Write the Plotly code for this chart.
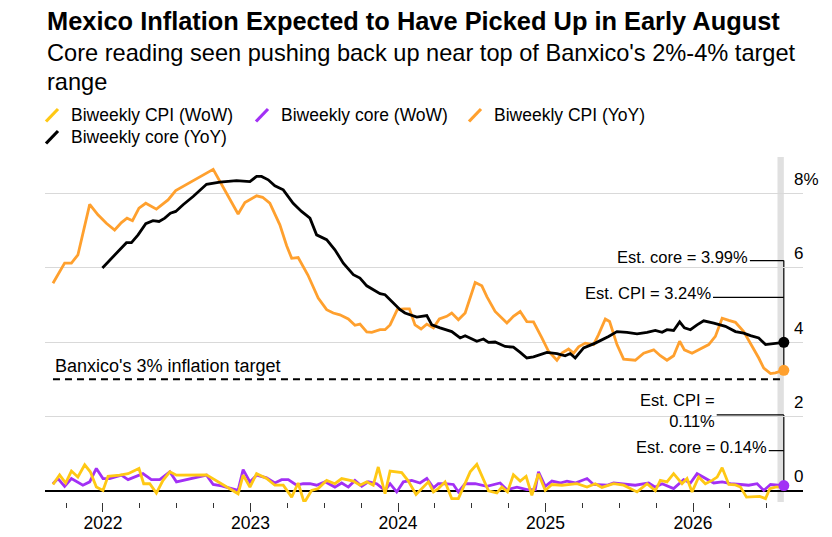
import plotly.graph_objects as go

# biweekly readings, x as decimal year
cpi_yoy_t = [2021.661, 2021.740, 2021.786, 2021.830, 2021.910, 2021.966, 2022.023, 2022.079, 2022.125, 2022.163,
             2022.200, 2022.244, 2022.290, 2022.362, 2022.441, 2022.493, 2022.747, 2022.916, 2022.962, 2023.041,
             2023.082, 2023.131, 2023.199, 2023.245, 2023.279, 2023.323, 2023.389, 2023.459, 2023.516, 2023.561,
             2023.606, 2023.663, 2023.708, 2023.742, 2023.788, 2023.822, 2023.878, 2023.912, 2023.946, 2023.995,
             2024.041, 2024.077, 2024.115, 2024.156, 2024.195, 2024.240, 2024.280, 2024.330, 2024.364, 2024.409,
             2024.455, 2024.523, 2024.568, 2024.602, 2024.658, 2024.738, 2024.782, 2024.828, 2024.873, 2024.918,
             2024.975, 2025.020, 2025.077, 2025.111, 2025.156, 2025.190, 2025.224, 2025.269, 2025.325, 2025.359,
             2025.405, 2025.434, 2025.484, 2025.529, 2025.608, 2025.665, 2025.733, 2025.778, 2025.823, 2025.868,
             2025.909, 2025.941, 2025.993, 2026.050, 2026.106, 2026.151, 2026.197, 2026.242, 2026.287, 2026.343,
             2026.389, 2026.445, 2026.479, 2026.525, 2026.558, 2026.615]
cpi_yoy = [5.58, 6.12, 6.12, 6.34, 7.70, 7.42, 7.19, 7.01, 7.21, 7.33,
           7.26, 7.60, 7.73, 7.57, 7.82, 8.07, 8.64, 7.44, 7.75, 7.93,
           7.89, 7.73, 7.15, 6.59, 6.25, 6.27, 5.80, 5.18, 4.87, 4.78,
           4.73, 4.62, 4.45, 4.48, 4.27, 4.26, 4.33, 4.33, 4.46, 4.87,
           4.89, 4.89, 4.46, 4.35, 4.48, 4.38, 4.62, 4.69, 4.78, 4.60,
           4.78, 5.60, 5.51, 5.22, 4.82, 4.51, 4.69, 4.82, 4.55, 4.54,
           4.11, 3.75, 3.51, 3.70, 3.81, 3.70, 3.87, 3.97, 3.93, 4.20,
           4.62, 4.55, 3.93, 3.54, 3.51, 3.70, 3.79, 3.63, 3.51, 3.63,
           4.02, 3.79, 3.70, 3.81, 3.93, 4.15, 4.64, 4.58, 4.53, 4.28,
           3.97, 3.57, 3.30, 3.15, 3.17, 3.24]

core_yoy_t = [2021.996, 2022.159, 2022.193, 2022.238, 2022.290, 2022.339, 2022.380, 2022.419, 2022.457, 2022.493,
              2022.543, 2022.611, 2022.702, 2022.792, 2022.905, 2022.996, 2023.041, 2023.075, 2023.120, 2023.165,
              2023.222, 2023.289, 2023.346, 2023.403, 2023.448, 2023.516, 2023.572, 2023.629, 2023.697, 2023.742,
              2023.788, 2023.832, 2023.878, 2023.912, 2023.957, 2024.014, 2024.047, 2024.127, 2024.195, 2024.229,
              2024.285, 2024.364, 2024.421, 2024.455, 2024.534, 2024.579, 2024.613, 2024.658, 2024.726, 2024.782,
              2024.828, 2024.873, 2024.918, 2025.009, 2025.077, 2025.133, 2025.167, 2025.201, 2025.258, 2025.337,
              2025.427, 2025.484, 2025.552, 2025.620, 2025.688, 2025.744, 2025.790, 2025.823, 2025.868, 2025.909,
              2025.941, 2025.982, 2026.027, 2026.072, 2026.140, 2026.219, 2026.287, 2026.343, 2026.389, 2026.445,
              2026.491, 2026.547, 2026.615]
core_yoy = [5.99, 6.67, 6.67, 6.88, 7.18, 7.26, 7.24, 7.33, 7.46, 7.51,
            7.69, 7.91, 8.24, 8.30, 8.34, 8.31, 8.45, 8.45, 8.36, 8.20,
            8.09, 7.73, 7.51, 7.33, 6.88, 6.75, 6.48, 6.12, 5.81, 5.72,
            5.51, 5.40, 5.30, 5.27, 5.09, 4.87, 4.78, 4.67, 4.71, 4.46,
            4.38, 4.28, 4.11, 4.17, 4.02, 4.08, 3.99, 4.00, 3.88, 3.86,
            3.72, 3.57, 3.60, 3.72, 3.69, 3.63, 3.69, 3.57, 3.84, 3.97,
            4.15, 4.28, 4.26, 4.22, 4.26, 4.31, 4.26, 4.33, 4.31, 4.54,
            4.38, 4.33, 4.46, 4.57, 4.51, 4.42, 4.28, 4.24, 4.17, 4.11,
            3.93, 3.95, 3.99]

cpi_wow_t = [2021.661, 2021.706, 2021.747, 2021.786, 2021.830, 2021.876, 2021.914, 2021.955, 2022.000, 2022.034,
             2022.113, 2022.170, 2022.244, 2022.276, 2022.317, 2022.362, 2022.407, 2022.453, 2022.498, 2022.702,
             2022.916, 2022.950, 2022.996, 2023.041, 2023.109, 2023.165, 2023.222, 2023.279, 2023.323, 2023.364,
             2023.414, 2023.459, 2023.516, 2023.572, 2023.618, 2023.697, 2023.742, 2023.788, 2023.832, 2023.866,
             2023.912, 2023.946, 2024.025, 2024.070, 2024.122, 2024.172, 2024.206, 2024.240, 2024.273, 2024.319,
             2024.364, 2024.409, 2024.489, 2024.534, 2024.613, 2024.670, 2024.704, 2024.742, 2024.782, 2024.828,
             2024.868, 2024.907, 2024.952, 2024.998, 2025.043, 2025.111, 2025.213, 2025.281, 2025.337, 2025.382,
             2025.461, 2025.529, 2025.620, 2025.688, 2025.744, 2025.778, 2025.823, 2025.868, 2025.925, 2025.959,
             2025.993, 2026.038, 2026.083, 2026.129, 2026.163, 2026.197, 2026.242, 2026.287, 2026.321, 2026.362,
             2026.411, 2026.452, 2026.491, 2026.520, 2026.558, 2026.615]
cpi_wow = [0.17, 0.43, 0.21, 0.53, 0.37, 0.70, 0.51, 0.10, 0.01, 0.39,
           0.42, 0.46, 0.60, 0.19, 0.19, -0.06, 0.28, 0.51, 0.42, 0.43,
           -0.08, 0.42, 0.10, 0.46, 0.33, 0.15, 0.15, -0.17, 0.21, -0.32,
           0.01, 0.06, 0.28, 0.19, 0.33, 0.26, 0.15, 0.24, 0.15, 0.64,
           -0.08, 0.53, 0.49, 0.26, -0.10, 0.10, 0.24, -0.03, 0.06, 0.24,
           -0.21, -0.21, 0.51, 0.71, 0.00, -0.06, 0.10, -0.03, 0.43, 0.26,
           0.39, -0.12, 0.46, 0.01, 0.17, 0.15, 0.19, 0.10, 0.19, 0.09,
           0.19, 0.15, -0.03, 0.19, 0.00, 0.28, 0.24, 0.46, 0.19, 0.33,
           -0.03, 0.37, 0.19, 0.28, 0.37, 0.62, 0.17, 0.16, 0.10, -0.17,
           -0.15, -0.15, -0.21, 0.06, 0.10, 0.11]

core_wow_t = [2021.661, 2021.695, 2021.740, 2021.786, 2021.864, 2021.910, 2021.955, 2022.000, 2022.045, 2022.125,
              2022.170, 2022.271, 2022.328, 2022.385, 2022.453, 2022.498, 2022.702, 2022.747, 2022.804, 2022.860,
              2022.916, 2022.950, 2022.996, 2023.041, 2023.109, 2023.165, 2023.211, 2023.256, 2023.313, 2023.357,
              2023.403, 2023.448, 2023.505, 2023.572, 2023.618, 2023.663, 2023.708, 2023.754, 2023.798, 2023.855,
              2023.912, 2023.946, 2023.991, 2024.036, 2024.093, 2024.149, 2024.195, 2024.240, 2024.273, 2024.319,
              2024.375, 2024.409, 2024.455, 2024.523, 2024.602, 2024.692, 2024.738, 2024.806, 2024.873, 2024.930,
              2024.952, 2024.998, 2025.043, 2025.099, 2025.145, 2025.201, 2025.281, 2025.325, 2025.416, 2025.461,
              2025.529, 2025.608, 2025.699, 2025.744, 2025.790, 2025.868, 2025.936, 2025.982, 2026.027, 2026.083,
              2026.140, 2026.197, 2026.253, 2026.321, 2026.377, 2026.434, 2026.479, 2026.525, 2026.615]
core_wow = [0.19, 0.33, 0.12, 0.33, 0.15, 0.24, 0.60, 0.33, 0.33, 0.42,
            0.30, 0.46, 0.30, 0.30, 0.51, 0.24, 0.42, 0.17, 0.13, 0.06,
            0.01, 0.57, 0.24, 0.42, 0.35, 0.21, 0.30, 0.30, 0.15, 0.19,
            0.19, 0.15, 0.24, 0.10, 0.21, 0.10, 0.28, 0.12, 0.24, 0.19,
            0.01, 0.19, -0.03, 0.24, 0.28, 0.21, 0.33, 0.08, 0.19, 0.19,
            0.17, -0.03, 0.19, 0.19, 0.12, 0.21, 0.03, 0.10, 0.03, 0.03,
            0.51, 0.12, 0.26, 0.21, 0.26, 0.21, 0.33, 0.17, 0.15, 0.21,
            0.19, 0.15, 0.21, 0.10, 0.19, 0.06, 0.30, 0.21, 0.46, 0.33,
            0.21, 0.24, 0.19, 0.17, 0.15, 0.19, 0.01, 0.17, 0.14]

target = 3
year_ticks = [2022, 2023, 2024, 2025, 2026]
year_labels = ["2022", "2023", "2024", "2025", "2026"]
y_ticks = [0, 2, 4, 6, 8]
y_labels = ["0", "2", "4", "6", "8%"]

YELLOW = "#ffc814"
PURPLE = "#a230f5"
ORANGE = "#ffa02e"
BLACK = "#000000"
FONT = "Liberation Sans, Arial, sans-serif"

# the page body adds an 8px margin, so the figure is a bit smaller than the window
OFF = 8
W, H = 832 - OFF, 537 - OFF
PLOT_L, PLOT_R, PLOT_T, PLOT_B = 45, 803, 157, 502  # page pixels
ML, MR, MT, MB = PLOT_L - OFF, 832 - PLOT_R, PLOT_T - OFF, 537 - PLOT_B


def px(x):
    return (x - PLOT_L) / (PLOT_R - PLOT_L)


def py(y):
    return (PLOT_B - y) / (PLOT_B - PLOT_T)


fig = go.Figure()

series = [
    (core_wow_t, core_wow, PURPLE, "Biweekly core (WoW)"),
    (cpi_wow_t, cpi_wow, YELLOW, "Biweekly CPI (WoW)"),
    (cpi_yoy_t, cpi_yoy, ORANGE, "Biweekly CPI (YoY)"),
    (core_yoy_t, core_yoy, BLACK, "Biweekly core (YoY)"),
]
for t, v, c, name in series:
    fig.add_trace(go.Scatter(x=t, y=v, mode="lines", name=name,
                             line=dict(color=c, width=2.8), showlegend=False))

# end-point dots
for t, v, c in [(core_wow_t, core_wow, PURPLE), (core_yoy_t, core_yoy, BLACK), (cpi_yoy_t, cpi_yoy, ORANGE)]:
    fig.add_trace(go.Scatter(x=[t[-1]], y=[v[-1]], mode="markers", showlegend=False,
                             marker=dict(color=c, size=11)))

last = cpi_yoy_t[-1]

shapes = []
# highlight band for latest period
shapes.append(dict(type="rect", xref="x", yref="paper", x0=2026.572, x1=last, y0=0, y1=1,
                   fillcolor="#e0e0e0", line=dict(width=0), layer="below"))
# target line
shapes.append(dict(type="line", xref="x", yref="y", x0=cpi_yoy_t[0], x1=last, y0=target, y1=target,
                   line=dict(color=BLACK, width=2, dash="7px,5px")))

# callout connectors
callouts = [
    ("Est. core = 3.99%", 6.19, 2026.385, core_yoy[-1]),
    ("Est. CPI = 3.24%", 5.20, 2026.135, cpi_yoy[-1]),
    ("Est. CPI =<br>0.11%", 2.04, 2026.160, cpi_wow[-1]),
    ("Est. core = 0.14%", 1.08, 2026.513, core_wow[-1]),
]
annotations = []
for text, ly, lx, val in callouts:
    shapes.append(dict(type="line", xref="x", yref="y", x0=lx, x1=last, y0=ly, y1=ly,
                       line=dict(color=BLACK, width=1.2)))
    annotations.append(dict(x=lx, y=ly, xref="x", yref="y", text=text, showarrow=False,
                            xanchor="right", yanchor="middle", align="right", yshift=4,
                            font=dict(size=16.5, color=BLACK, family=FONT)))
shapes.append(dict(type="line", xref="x", yref="y", x0=last, x1=last, y0=6.19, y1=cpi_yoy[-1],
                   line=dict(color=BLACK, width=1.2), layer="below"))
shapes.append(dict(type="line", xref="x", yref="y", x0=last, x1=last, y0=2.04, y1=core_wow[-1],
                   line=dict(color=BLACK, width=1.2), layer="below"))

annotations.append(dict(x=cpi_yoy_t[0], y=target, xref="x", yref="y", text="Banxico's 3% inflation target",
                        showarrow=False, xanchor="left", yanchor="bottom", yshift=1,
                        font=dict(size=18, color=BLACK, family=FONT)))

# right-hand axis labels sitting above gridlines
for v, lab in zip(y_ticks, y_labels):
    annotations.append(dict(x=px(792), y=v, xref="paper", yref="y", text=lab, showarrow=False,
                            xanchor="left", yanchor="middle", yshift=14,
                            font=dict(size=17, color=BLACK, family=FONT)))

# titles
annotations.append(dict(x=px(45), y=py(21), xref="paper", yref="paper", xanchor="left", yanchor="middle",
                        text="<b>Mexico Inflation Expected to Have Picked Up in Early August</b>", showarrow=False,
                        font=dict(size=25.4, color=BLACK, family=FONT)))
annotations.append(dict(x=px(45), y=py(53.5), xref="paper", yref="paper", xanchor="left", yanchor="middle",
                        text="Core reading seen pushing back up near top of Banxico's 2%-4% target",
                        showarrow=False, font=dict(size=23.6, color=BLACK, family=FONT)))
annotations.append(dict(x=px(45), y=py(82), xref="paper", yref="paper", xanchor="left", yanchor="middle",
                        text="range", showarrow=False, font=dict(size=23.6, color=BLACK, family=FONT)))

# legend built by hand: slanted strokes + labels
legend_items = [
    ("Biweekly CPI (WoW)", YELLOW, 46, 115),
    ("Biweekly core (WoW)", PURPLE, 256, 115),
    ("Biweekly CPI (YoY)", ORANGE, 469, 115),
    ("Biweekly core (YoY)", BLACK, 46, 137),
]
for text, c, x0, yc in legend_items:
    shapes.append(dict(type="line", xref="paper", yref="paper", x0=px(x0), y0=py(yc + 6.5),
                       x1=px(x0 + 12), y1=py(yc - 6), line=dict(color=c, width=3.2)))
    annotations.append(dict(x=px(x0 + 23), y=py(yc), xref="paper", yref="paper", xanchor="left",
                            yanchor="middle", text=text, showarrow=False,
                            font=dict(size=17.5, color=BLACK, family=FONT)))

fig.update_layout(
    width=W, height=H,
    margin=dict(l=ML, r=MR, t=MT, b=MB),
    paper_bgcolor="white", plot_bgcolor="white",
    shapes=shapes, annotations=annotations,
    font=dict(family=FONT, color=BLACK),
    xaxis=dict(range=[2021.607, 2026.745], tickvals=year_ticks, ticktext=year_labels,
               ticks="outside", ticklen=9, tickcolor="#333", tickwidth=1.2, ticklabelstandoff=-4,
               minor=dict(dtick=0.25, tick0=2022, ticks="outside", ticklen=5, tickcolor="#333", tickwidth=1.2),
               showgrid=False, zeroline=False, showline=False, automargin=False,
               tickfont=dict(size=17.5, color=BLACK, family=FONT)),
    yaxis=dict(range=[-0.301, 8.973], tickvals=y_ticks, showticklabels=False, automargin=False,
               gridcolor="#d9d9d9", gridwidth=1, zeroline=True, zerolinecolor=BLACK, zerolinewidth=1.5,
               fixedrange=True),
)

fig.write_html("out.html")
